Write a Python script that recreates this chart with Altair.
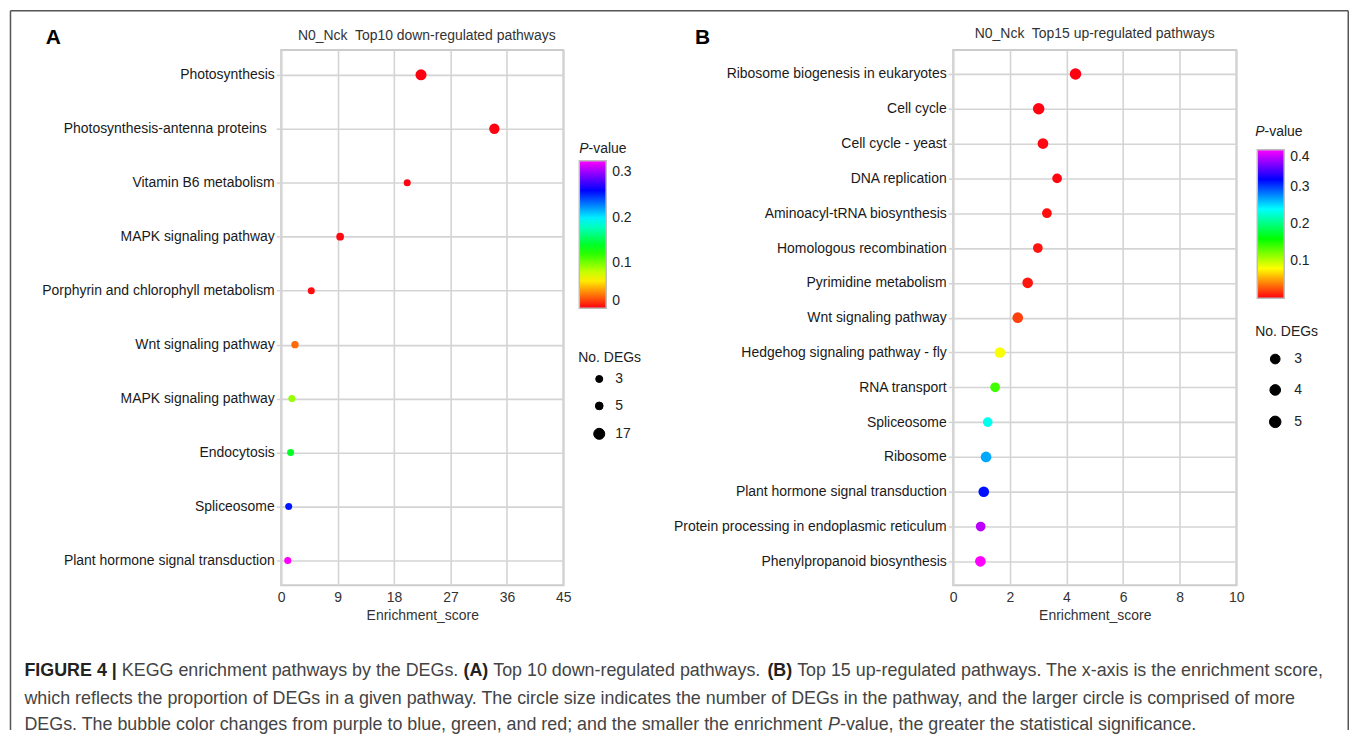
import altair as alt
import pandas as pd

FONT = "Liberation Sans"

# ---------------- Panel A data ----------------
a_pathways = [
    "Photosynthesis",
    "Photosynthesis-antenna proteins",
    "Vitamin B6 metabolism",
    "MAPK signaling pathway",
    "Porphyrin and chlorophyll metabolism",
    "Wnt signaling pathway",
    "MAPK signaling pathway\u200b",
    "Endocytosis",
    "Spliceosome",
    "Plant hormone signal transduction",
]
a_score = [22.3, 34.0, 20.1, 9.4, 4.8, 2.2, 1.7, 1.5, 1.2, 1.05]
a_pvalue = [0.0001, 0.0002, 0.001, 0.002, 0.003, 0.027, 0.092, 0.14, 0.255, 0.326]
a_degs = [17, 14, 3, 5, 3, 4, 3, 3, 3, 3]
a_xticks = [0, 9, 18, 27, 36, 45]
a_pticks = [0, 0.1, 0.2, 0.3]
a_deg_ticks = [3, 5, 17]

# ---------------- Panel B data ----------------
b_pathways = [
    "Ribosome biogenesis in eukaryotes",
    "Cell cycle",
    "Cell cycle - yeast",
    "DNA replication",
    "Aminoacyl-tRNA biosynthesis",
    "Homologous recombination",
    "Pyrimidine metabolism",
    "Wnt signaling pathway",
    "Hedgehog signaling pathway - fly",
    "RNA transport",
    "Spliceosome",
    "Ribosome",
    "Plant hormone signal transduction",
    "Protein processing in endoplasmic reticulum",
    "Phenylpropanoid biosynthesis",
]
b_score = [4.32, 3.02, 3.17, 3.67, 3.31, 2.99, 2.63, 2.28, 1.65, 1.48, 1.22, 1.16, 1.08, 0.97, 0.96]
b_pvalue = [0.0001, 0.001, 0.002, 0.002, 0.004, 0.006, 0.007, 0.02, 0.082, 0.14, 0.235, 0.267, 0.315, 0.379, 0.4]
b_degs = [5, 5, 4, 3, 3, 3, 4, 4, 4, 3, 3, 4, 4, 3, 4]
b_xticks = [0, 2, 4, 6, 8, 10]
b_pticks = [0.1, 0.2, 0.3, 0.4]
b_deg_ticks = [3, 4, 5]

titles = ["N0_Nck\u00a0 Top10 down-regulated pathways", "N0_Nck\u00a0 Top15 up-regulated pathways"]
caption_lines = [
    [("FIGURE 4 |", "b"), (" KEGG enrichment pathways by the DEGs. ", "r"), ("(A)", "b"),
     (" Top 10 down-regulated pathways. ", "r"), ("(B)", "b"),
     (" Top 15 up-regulated pathways. The x-axis is the enrichment score,", "r")],
    [("which reflects the proportion of DEGs in a given pathway. The circle size indicates the number of DEGs in the pathway, and the larger circle is comprised of more", "r")],
    [("DEGs. The bubble color changes from purple to blue, green, and red; and the smaller the enrichment ", "r"),
     ("P", "i"), ("-value, the greater the statistical significance.", "r")],
]

RAINBOW = ["#ff0010", "#ffff00", "#00ff00", "#00ffff", "#0000ff", "#ff00ff"]

# Helvetica / Arial advance widths (1/1000 em) for laying out mixed-style caption text
HELV = {' ': 278, '!': 278, '"': 355, '#': 556, '$': 556, '%': 889, '&': 667, "'": 191,
        '(': 333, ')': 333, '*': 389, '+': 584, ',': 278, '-': 333, '.': 278, '/': 278,
        ':': 278, ';': 278, '?': 556, '|': 260, '_': 556,
        'A': 667, 'B': 667, 'C': 722, 'D': 722, 'E': 667, 'F': 611, 'G': 778, 'H': 722,
        'I': 278, 'J': 500, 'K': 667, 'L': 556, 'M': 833, 'N': 722, 'O': 778, 'P': 667,
        'Q': 778, 'R': 722, 'S': 667, 'T': 611, 'U': 722, 'V': 667, 'W': 944, 'X': 667,
        'Y': 667, 'Z': 611,
        'a': 556, 'b': 556, 'c': 500, 'd': 556, 'e': 556, 'f': 278, 'g': 556, 'h': 556,
        'i': 222, 'j': 222, 'k': 500, 'l': 222, 'm': 833, 'n': 556, 'o': 556, 'p': 556,
        'q': 556, 'r': 333, 's': 500, 't': 278, 'u': 556, 'v': 500, 'w': 722, 'x': 500,
        'y': 500, 'z': 500}
for d in "0123456789":
    HELV[d] = 556
HELV_B = {' ': 278, '(': 333, ')': 333, '|': 280, 'A': 722, 'B': 722, 'E': 667, 'F': 611,
          'G': 778, 'I': 278, 'R': 722, 'U': 722}
for d in "0123456789":
    HELV_B[d] = 556


def tw(s, fs, style="r"):
    tbl = HELV_B if style == "b" else HELV
    return sum(tbl.get(c, HELV.get(c, 556)) for c in s) * fs / 1000.0


one = pd.DataFrame({"k": [0]})


def text_layer(txt, x, y, size=14, weight="normal", style="normal", color="#222",
               align="left", baseline="middle"):
    return alt.Chart(one).mark_text(
        text=txt, fontSize=size, fontWeight=weight, fontStyle=style, color=color,
        align=align, baseline=baseline, font=FONT
    ).encode(x=alt.value(x), y=alt.value(y))


def stops(vmax):
    return [vmax * i / 5 for i in range(6)]


W_A, W_B, H = 283, 284, 537


def panel(names, score, pval, degs, width, xmax, xticks, pad, pmax, pticks,
          size_dom, size_rng, size_vals, cl_xy, cl_len, sl_xy, s_tpad, s_rpad, s_off, l_off,
          label_pad):
    df = pd.DataFrame({"pathway": names, "score": score, "p": pval, "degs": degs})
    return alt.Chart(df).mark_circle(opacity=1).encode(
        x=alt.X("score:Q",
                scale=alt.Scale(domain=[0, xmax], nice=False, zero=True),
                axis=alt.Axis(values=xticks, title="Enrichment_score", ticks=False,
                              labelPadding=5, titlePadding=4, labelFlush=False,
                              grid=True, domain=False, format="d")),
        y=alt.Y("pathway:N", sort=names,
                scale=alt.Scale(type="point", padding=pad),
                axis=alt.Axis(title=None, tickSize=5, labelPadding=label_pad, labelLimit=400,
                              grid=True, domain=False, labelColor="#1a1a1a")),
        color=alt.Color("p:Q",
                        scale=alt.Scale(domain=stops(pmax), range=RAINBOW, interpolate="rgb"),
                        legend=alt.Legend(orient="none", legendX=cl_xy[0], legendY=cl_xy[1],
                                          direction="vertical", gradientLength=cl_len,
                                          gradientThickness=27, title=None, values=pticks,
                                          format=".1~f", labelFontSize=14, labelOffset=6,
                                          gradientStrokeColor="#bbbbbb", gradientStrokeWidth=1.5,
                                          labelBaseline="middle", padding=0)),
        size=alt.Size("degs:Q",
                      scale=alt.Scale(domain=size_dom, range=size_rng, zero=False),
                      legend=alt.Legend(orient="none", legendX=sl_xy[0], legendY=sl_xy[1],
                                        direction="vertical", title="No. DEGs",
                                        titleFontSize=14, titleFontWeight="normal",
                                        titlePadding=s_tpad, values=size_vals, format="d",
                                        symbolFillColor="black", symbolStrokeColor="black",
                                        symbolStrokeWidth=1, symbolType="circle",
                                        symbolOpacity=1, labelFontSize=14, rowPadding=s_rpad,
                                        symbolOffset=s_off, labelOffset=l_off, padding=0)),
    )


label_pad_a = {"condition": {"test": "datum.value == 'Photosynthesis-antenna proteins'",
                             "value": 10}, "value": 2}

pts_a = panel(a_pathways, a_score, a_pvalue, a_degs, W_A, 45, a_xticks, 0.46, 0.326, a_pticks,
              [3, 17], [50, 123], a_deg_ticks, (299, 111), 148, (298, 302), 7, 13, 14, 9,
              label_pad_a)
pts_b = panel(b_pathways, b_score, b_pvalue, b_degs, W_B, 10, b_xticks, 0.69, 0.4, b_pticks,
              [3, 5], [95, 133], b_deg_ticks, (305, 100), 149, (303, 276), 13, 16, 13, 12, 2)

# panel A annotations (coordinates relative to panel A plot origin)
layers_a = [
    pts_a,
    text_layer(titles[0], 146, -14, size=14, color="#333", align="center"),
    text_layer("A", -228.5, -12, size=21, weight="bold", color="#000", align="center"),
    text_layer("P", 299, 99, size=14, style="italic"),
    text_layer("-value", 299 + tw("P", 14), 99, size=14),
]

# outer frame
FR_L, FR_R, FR_T, FR_B = -271.5, 1070.25, -39.25, 682
frame_color = "#555555"
layers_a.append(alt.Chart(one).mark_rule(color=frame_color, strokeWidth=1.5).encode(
    x=alt.value(FR_L), x2=alt.value(FR_R), y=alt.value(FR_T)))
layers_a.append(alt.Chart(one).mark_rule(color=frame_color, strokeWidth=1.5).encode(
    x=alt.value(FR_L), y=alt.value(FR_T), y2=alt.value(FR_B)))
layers_a.append(alt.Chart(one).mark_rule(color=frame_color, strokeWidth=1.5).encode(
    x=alt.value(FR_R), y=alt.value(FR_T), y2=alt.value(FR_B)))

# caption
cap_x0 = 22.5 - 280
cap_target = 1305
line1_units = sum(tw(s, 1000, st) for s, st in caption_lines[0]) / 1000.0
CAP_FS = cap_target / line1_units
cap_y = [671 - 48, 699 - 48, 725 - 48]
for li, segs in enumerate(caption_lines):
    cum = 0.0
    for seg, st in segs:
        lead = len(seg) - len(seg.lstrip())
        xd = cap_x0 + cum + tw(seg[:lead], CAP_FS, st)
        cum += tw(seg, CAP_FS, st)
        layers_a.append(text_layer(
            seg.strip(), xd, cap_y[li], size=CAP_FS,
            weight="bold" if st == "b" else "normal",
            style="italic" if st == "i" else "normal",
            color="#222" if st == "b" else "#444444"))

chart_a = alt.layer(*layers_a).properties(width=W_A, height=H)

layers_b = [
    pts_b,
    text_layer(titles[1], 142, -16, size=14, color="#333", align="center"),
    text_layer("B", -251.5, -12, size=21, weight="bold", color="#000", align="center"),
    text_layer("P", 303, 82, size=14, style="italic"),
    text_layer("-value", 303 + tw("P", 14), 82, size=14),
]
chart_b = alt.layer(*layers_b).properties(width=W_B, height=H)

chart = alt.hconcat(chart_a, chart_b, spacing=954 - 280 - W_A, bounds="flush").resolve_scale(
    x="independent", y="independent", color="independent", size="independent"
).resolve_legend(color="independent", size="independent").properties(
    padding={"left": 0, "top": 0, "right": 0, "bottom": 0}, background="white"
).configure(font=FONT).configure_view(
    stroke="#cccccc", strokeWidth=2
).configure_axis(
    labelFont=FONT, titleFont=FONT, labelFontSize=14, titleFontSize=14,
    labelColor="#333", titleColor="#333", titleFontWeight="normal",
    gridColor="#d4d4d4", gridWidth=1.6, tickColor="#d4d4d4", tickWidth=1.6
).configure_legend(
    labelFont=FONT, titleFont=FONT, labelColor="#222", titleColor="#222"
)

chart.save("out.html", embed_options={"renderer": "svg", "actions": False})
